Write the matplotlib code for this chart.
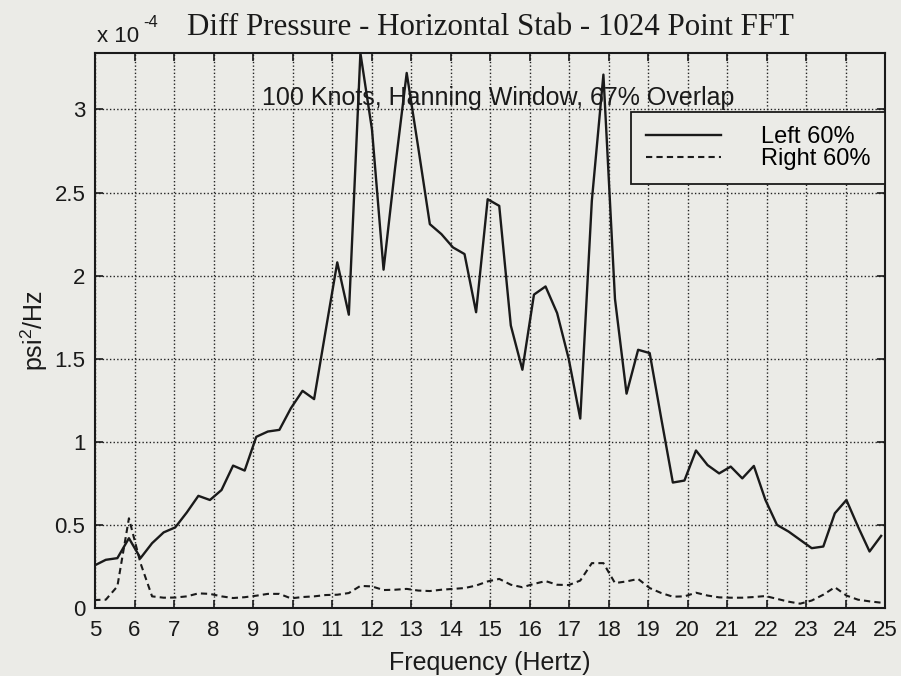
import matplotlib
matplotlib.use("Agg")
import matplotlib.pyplot as plt

# frequency bins (Hz), 1024 point FFT
freq = [4.980, 5.273, 5.566, 5.859, 6.152, 6.445, 6.738, 7.031, 7.324, 7.617,
        7.910, 8.203, 8.496, 8.789, 9.082, 9.375, 9.668, 9.961, 10.254, 10.547,
        10.840, 11.133, 11.426, 11.719, 12.012, 12.305, 12.598, 12.891, 13.184, 13.477,
        13.770, 14.063, 14.355, 14.648, 14.941, 15.234, 15.527, 15.820, 16.113, 16.406,
        16.699, 16.992, 17.285, 17.578, 17.871, 18.164, 18.457, 18.750, 19.043, 19.336,
        19.629, 19.922, 20.215, 20.508, 20.801, 21.094, 21.387, 21.680, 21.973, 22.266,
        22.559, 22.852, 23.145, 23.438, 23.730, 24.023, 24.316, 24.609, 24.902]

# PSD, units of 1e-4 psi^2/Hz
left_60 = [0.255, 0.29, 0.30, 0.42, 0.30, 0.39, 0.455, 0.485, 0.575, 0.675,
           0.65, 0.71, 0.857, 0.827, 1.03, 1.062, 1.072, 1.203, 1.307, 1.257,
           1.67, 2.08, 1.765, 3.34, 2.88, 2.036, 2.65, 3.22, 2.77, 2.31,
           2.25, 2.17, 2.13, 1.78, 2.46, 2.42, 1.70, 1.434, 1.886, 1.935,
           1.775, 1.50, 1.14, 2.45, 3.21, 1.86, 1.29, 1.554, 1.534, 1.14,
           0.755, 0.767, 0.948, 0.86, 0.81, 0.851, 0.78, 0.855, 0.65, 0.50,
           0.46, 0.41, 0.36, 0.37, 0.57, 0.65, 0.49, 0.34, 0.434]

right_60 = [0.048, 0.05, 0.13, 0.54, 0.27, 0.07, 0.062, 0.063, 0.07, 0.088,
            0.085, 0.07, 0.06, 0.065, 0.074, 0.085, 0.085, 0.058, 0.066, 0.07,
            0.078, 0.08, 0.09, 0.133, 0.13, 0.108, 0.11, 0.115, 0.105, 0.102,
            0.11, 0.115, 0.12, 0.135, 0.16, 0.175, 0.14, 0.125, 0.145, 0.162,
            0.14, 0.138, 0.165, 0.27, 0.27, 0.15, 0.16, 0.175, 0.12, 0.09,
            0.068, 0.07, 0.092, 0.075, 0.064, 0.062, 0.062, 0.066, 0.072, 0.055,
            0.038, 0.026, 0.045, 0.08, 0.125, 0.075, 0.05, 0.04, 0.032]

xticks = list(range(5, 26))
yticks = [0, 0.5, 1, 1.5, 2, 2.5, 3]
ytick_labels = ['0', '0.5', '1', '1.5', '2', '2.5', '3']

bg = '#ebebe7'
ink = '#1a1a1a'
plt.rcParams['font.family'] = ['Liberation Sans', 'DejaVu Sans']
plt.rcParams['mathtext.fontset'] = 'custom'
plt.rcParams['mathtext.rm'] = 'Liberation Sans'
plt.rcParams['mathtext.it'] = 'Liberation Sans'

fig = plt.figure(figsize=(9.01, 6.76), dpi=100, facecolor=bg)
ax = fig.add_axes([95/901, 1-608/676, 790/901, 555/676])
ax.set_facecolor(bg)

ax.plot(freq, left_60, color=ink, lw=1.7, ls='-', label='Left 60%')
ax.plot(freq, right_60, color=ink, lw=1.5, ls=(0, (3, 2)), label='Right 60%')

ax.set_xlim(5, 25)
ax.set_ylim(0, max(left_60))
ax.set_xticks(xticks)
ax.set_yticks(yticks)
ax.set_yticklabels(ytick_labels)
ax.grid(True, color='#222222', ls=(0, (1, 1.6)), lw=1.0)
ax.tick_params(direction='in', top=True, right=True, length=6, width=1.2,
               labelsize=16, colors=ink)
ax.tick_params(axis='x', pad=9)
ax.tick_params(axis='y', pad=7)
for s in ax.spines.values():
    s.set_linewidth(1.5)
    s.set_color(ink)

ax.set_xlabel('Frequency (Hertz)', fontsize=18, labelpad=7, color=ink)
ax.set_ylabel('psi$^2$/Hz', fontsize=18, labelpad=3, color=ink)
ax.set_title('Diff Pressure - Horizontal Stab - 1024 Point FFT',
             family='Liberation Serif', fontsize=22.3, pad=13, color=ink)

# exponent label above the y axis
fig.text(97/901, 1-42/676, 'x 10', fontsize=16, ha='left', va='baseline', color=ink)
fig.text(143/901, 1-27/676, '-4', fontsize=12, ha='left', va='baseline', color=ink)

ax.text(15.2, 3.07, '100 Knots, Hanning Window, 67% Overlap', fontsize=18,
        ha='center', va='center', color=ink)

leg = ax.legend(loc='upper right', bbox_to_anchor=(1.0, 0.894), fontsize=17,
                frameon=True, fancybox=False, borderaxespad=0, handlelength=3.2,
                handletextpad=1.7, labelspacing=0.0, borderpad=0.6)
leg.get_frame().set_edgecolor(ink)
leg.get_frame().set_linewidth(1.3)
leg.get_frame().set_facecolor(bg)
leg.get_frame().set_alpha(1)

fig.savefig('out.png', dpi=100, facecolor=bg)
